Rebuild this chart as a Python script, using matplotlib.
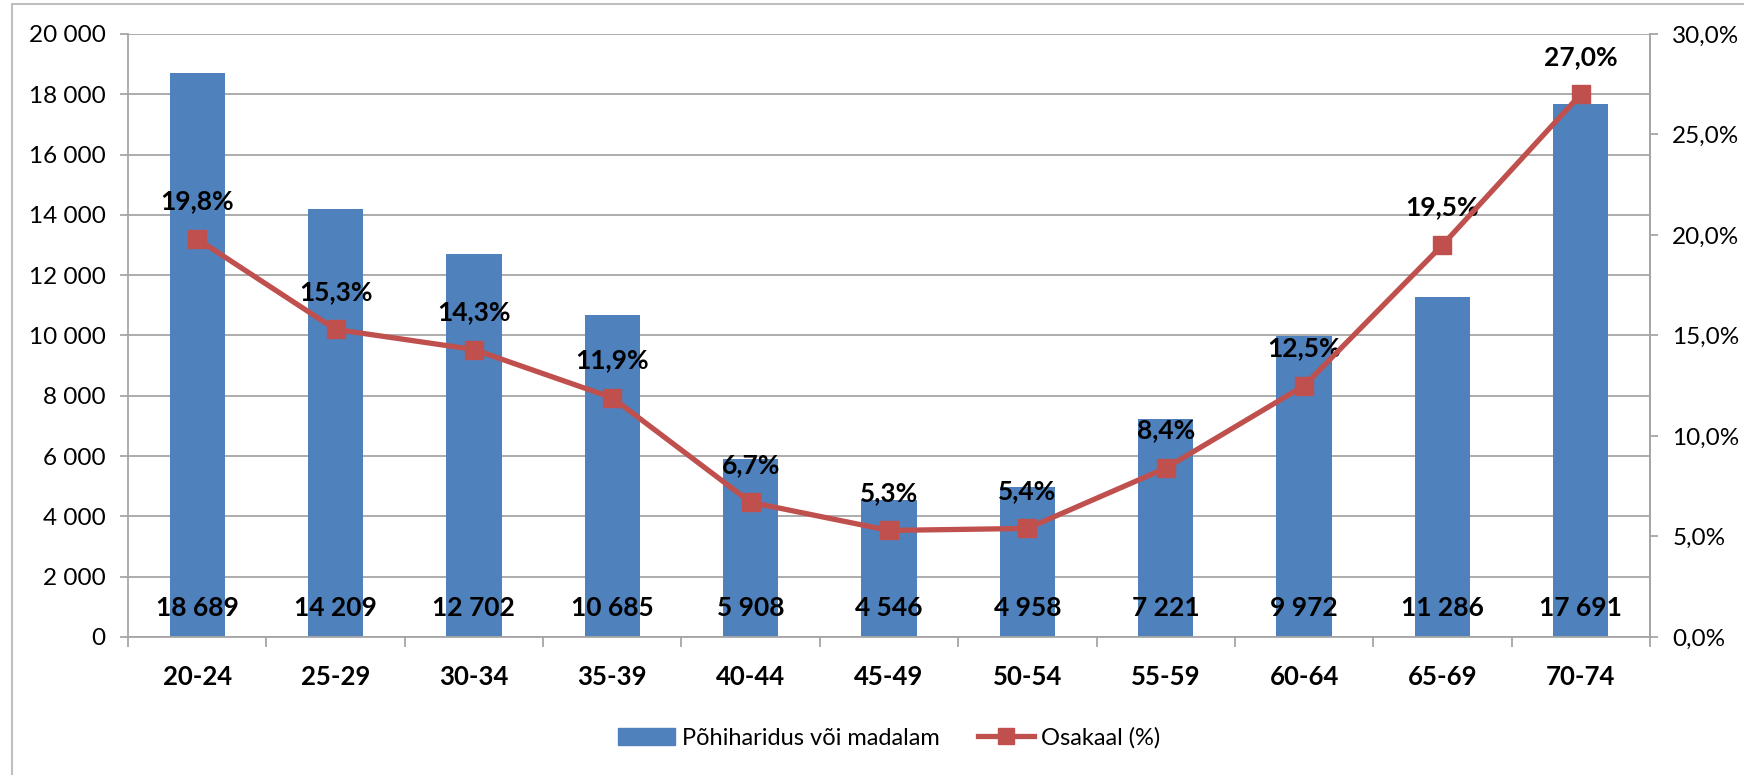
import matplotlib.pyplot as plt
import matplotlib.ticker as mticker
from matplotlib.lines import Line2D
import numpy as np

plt.rcParams['font.family'] = ['Lato', 'DejaVu Sans']

groups = ['20-24', '25-29', '30-34', '35-39', '40-44', '45-49',
          '50-54', '55-59', '60-64', '65-69', '70-74']
counts = [18689, 14209, 12702, 10685, 5908, 4546, 4958, 7221, 9972, 11286, 17691]
shares = [19.8, 15.3, 14.3, 11.9, 6.7, 5.3, 5.4, 8.4, 12.5, 19.5, 27.0]

bar_col = '#4F81BD'
line_col = '#C0504D'
grid_col = '#A6A6A6'

def thou(v, pos=None):
    return f'{int(v):,}'.replace(',', ' ')

def pct(v, pos=None):
    return f'{v:.1f}%'.replace('.', ',')

fig = plt.figure(figsize=(17.44, 7.75), dpi=100)
ax = fig.add_axes([0.0734, 0.1781, 0.8727, 0.7781])
x = np.arange(len(groups))

ax.bar(x, counts, width=0.4, color=bar_col, zorder=2)
ax.set_xlim(-0.5, len(groups) - 0.5)
ax.set_ylim(0, 20000)
ax.yaxis.set_major_locator(mticker.MultipleLocator(2000))
ax.yaxis.set_major_formatter(mticker.FuncFormatter(thou))
ax.grid(axis='y', color=grid_col, lw=1.3, zorder=0)
ax.set_axisbelow(True)

for xi, c in zip(x, counts):
    ax.text(xi, 960, thou(c), ha='center', va='center', fontsize=19,
            fontweight='bold', color='black', zorder=4)

ax.set_xticks(x)
ax.set_xticklabels(groups, fontsize=18.5, fontweight='bold')
ax.tick_params(axis='x', length=0, pad=20)
ax.set_xticks(np.arange(-0.5, len(groups)), minor=True)
ax.tick_params(axis='x', which='minor', length=7, color=grid_col, width=1.3)
ax.tick_params(axis='y', labelsize=17.5, length=6, color=grid_col, width=1.3, pad=10)

ax.spines['top'].set_visible(False)
for s in ['left', 'right', 'bottom']:
    ax.spines[s].set_color(grid_col)
    ax.spines[s].set_linewidth(1.3)

ax2 = ax.twinx()
ax2.plot(x, shares, color=line_col, lw=3.8, marker='s', markersize=13.5, zorder=5)
ax2.set_ylim(0, 30)
ax2.yaxis.set_major_locator(mticker.MultipleLocator(5))
ax2.yaxis.set_major_formatter(mticker.FuncFormatter(pct))
ax2.tick_params(axis='y', labelsize=17.5, length=6, color=grid_col, width=1.3, pad=10)
for s in ['top', 'left', 'bottom']:
    ax2.spines[s].set_visible(False)
ax2.spines['right'].set_color(grid_col)
ax2.spines['right'].set_linewidth(1.3)

for xi, s in zip(x, shares):
    ax2.annotate(pct(s), (xi, s), xytext=(0, 27), textcoords='offset points',
                 ha='center', va='center', fontsize=19, fontweight='bold')

handles = [plt.Rectangle((0, 0), 1, 1, color=bar_col),
           Line2D([0], [0], color=line_col, lw=3.8, marker='s', markersize=12)]
fig.legend(handles, ['Põhiharidus või madalam', 'Osakaal (%)'],
           loc='center', bbox_to_anchor=(0.51, 0.048), ncol=2, frameon=False,
           fontsize=17, handlelength=2.4, handletextpad=0.3, columnspacing=1.6)

# outer chart frame
fig.add_artist(Line2D([12 / 1744, 12 / 1744], [0, 1 - 4 / 775], color='#BFBFBF', lw=1.5))
fig.add_artist(Line2D([12 / 1744, 1], [1 - 4 / 775, 1 - 4 / 775], color='#BFBFBF', lw=1.5))

fig.savefig('out.png', dpi=100)
